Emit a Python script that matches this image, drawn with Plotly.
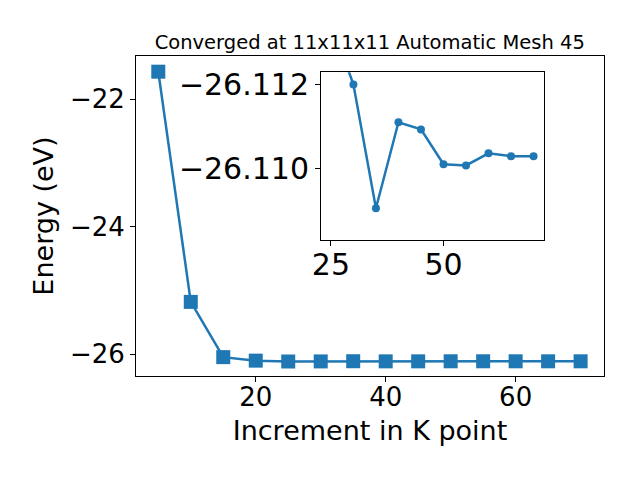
import plotly.graph_objects as go

kpoints = [5, 10, 15, 20, 25, 30, 35, 40, 45, 50, 55, 60, 65, 70]
energy = [-21.566, -25.178, -26.045, -26.100, -26.1135, -26.1120, -26.10905,
          -26.11110, -26.11093, -26.11010, -26.11007, -26.11036, -26.11029, -26.11029]

inset_k = kpoints[4:]
inset_e = energy[4:]

title = "Converged at 11x11x11 Automatic Mesh 45"
xlabel = "Increment in K point"
ylabel = "Energy (eV)"

blue = "#1f77b4"
font = "DejaVu Sans"

fig = go.Figure()
fig.add_trace(go.Scatter(x=kpoints, y=energy, mode="lines+markers",
                         line=dict(color=blue, width=2.5),
                         marker=dict(symbol="square", size=14, color=blue),
                         xaxis="x", yaxis="y", showlegend=False))
fig.add_trace(go.Scatter(x=inset_k, y=inset_e, mode="lines+markers",
                         line=dict(color=blue, width=2.5),
                         marker=dict(symbol="circle", size=8, color=blue),
                         xaxis="x2", yaxis="y2", showlegend=False, cliponaxis=True))

axis_common = dict(showline=True, linecolor="black", linewidth=1, mirror=True,
                   ticks="outside", ticklen=5, tickcolor="black", showgrid=False,
                   zeroline=False, automargin=False)

fig.update_layout(
    width=640, height=480,
    margin=dict(l=127.5, r=44, t=48, b=112.3),
    plot_bgcolor="white", paper_bgcolor="white",
    font=dict(family=font, color="black"),
    title=dict(text=title, x=(127.5 + 596) / 2 / 640, xanchor="center",
               y=1 - 34 / 480, yanchor="middle", font=dict(size=19.5)),
    xaxis=dict(domain=[0, 1], range=[1.57, 73.6], tickvals=[20, 40, 60],
               ticklabelstandoff=-7,
               tickfont=dict(size=26), title=dict(text=xlabel, font=dict(size=27), standoff=9),
               **axis_common),
    yaxis=dict(domain=[0, 1], range=[-26.341, -21.32], tickvals=[-26, -24, -22],
               ticktext=["\u221226", "\u221224", "\u221222"],
               tickfont=dict(size=26), title=dict(text=ylabel, font=dict(size=27), standoff=8),
               **axis_common),
    xaxis2=dict(domain=[0.3953, 0.8726], anchor="y2", range=[22.8, 72.4], tickvals=[25, 50],
                ticklabelstandoff=-7,
                tickfont=dict(size=30), **axis_common),
    yaxis2=dict(domain=[0.4245, 0.949], anchor="x2", range=[-26.10829, -26.11229],
                tickvals=[-26.112, -26.110], ticktext=["\u221226.112", "\u221226.110"],
                tickfont=dict(size=30), **axis_common),
)

fig.write_html("out.html")
